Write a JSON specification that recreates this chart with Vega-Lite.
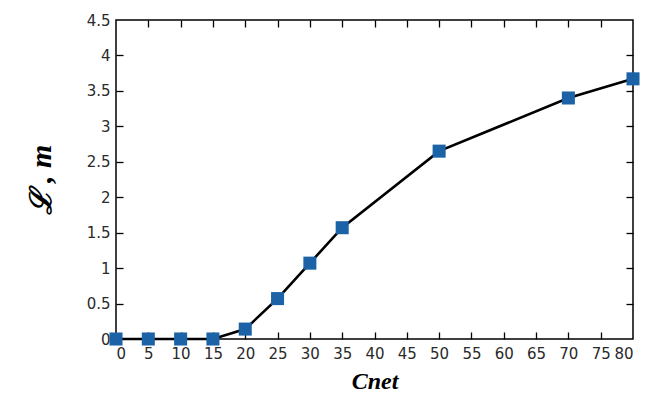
{
  "$schema": "https://vega.github.io/schema/vega-lite/v6.json",
  "autosize": "none",
  "width": 517,
  "height": 319,
  "padding": {"left": 116, "top": 20, "right": 16, "bottom": 73},
  "background": "white",
  "config": {
    "view": {"stroke": "black", "strokeWidth": 1.5},
    "axis": {
      "grid": false,
      "domain": false,
      "tickColor": "black",
      "tickWidth": 1.3,
      "tickSize": 7,
      "labelFont": "DejaVu Sans",
      "labelFontSize": 15,
      "labelColor": "#2a2a2a"
    }
  },
  "data": {
    "values": [
      {"cnet": 0, "L": 0},
      {"cnet": 5, "L": 0},
      {"cnet": 10, "L": 0},
      {"cnet": 15, "L": 0},
      {"cnet": 20, "L": 0.14},
      {"cnet": 25, "L": 0.57},
      {"cnet": 30, "L": 1.07},
      {"cnet": 35, "L": 1.57},
      {"cnet": 50, "L": 2.65},
      {"cnet": 70, "L": 3.4},
      {"cnet": 80, "L": 3.67}
    ]
  },
  "encoding": {
    "x": {"field": "cnet", "type": "quantitative", "scale": {"domain": [0, 80], "nice": false}},
    "y": {"field": "L", "type": "quantitative", "scale": {"domain": [0, 4.5], "nice": false}}
  },
  "layer": [
    {
      "mark": {"type": "line", "color": "black", "strokeWidth": 2.6, "interpolate": "linear"},
      "encoding": {
        "x": {"field": "cnet", "type": "quantitative",
          "axis": {"orient": "bottom", "ticks": false, "format": "~g", "values": [0,5,10,15,20,25,30,35,40,45,50,55,60,65,70,75,80], "labelPadding": 7, "title": "Cnet", "titleFont": "Liberation Serif", "titleFontSize": 24, "titleFontStyle": "italic", "titleFontWeight": "bold", "titleColor": "black", "titlePadding": 8}},
        "y": {"field": "L", "type": "quantitative",
          "axis": {"orient": "left", "ticks": false, "format": "~g", "values": [0,0.5,1,1.5,2,2.5,3,3.5,4,4.5], "labelPadding": 6, "title": "ℒ , m", "titleFont": "Liberation Serif", "titleFontSize": 30, "titleFontStyle": "italic", "titleFontWeight": "bold", "titleColor": "black", "titlePadding": 30}}
      }
    },
    {
      "mark": {"type": "square", "color": "#1b62a6", "opacity": 1, "size": 170},
      "encoding": {
        "x": {"field": "cnet", "type": "quantitative",
          "axis": {"orient": "top", "offset": -319, "values": [5,10,15,20,25,30,35,40,45,50,55,60,65,70,75], "labels": false, "title": null}},
        "y": {"field": "L", "type": "quantitative",
          "axis": {"orient": "right", "offset": -517, "values": [0.5,1,1.5,2,2.5,3,3.5,4], "labels": false, "title": null}}
      }
    },
    {
      "mark": {"type": "square", "opacity": 0},
      "encoding": {
        "x": {"field": "cnet", "type": "quantitative",
          "axis": {"orient": "bottom", "offset": -319, "values": [5,10,15,20,25,30,35,40,45,50,55,60,65,70,75], "labels": false, "title": null}},
        "y": {"field": "L", "type": "quantitative",
          "axis": {"orient": "left", "offset": -517, "values": [0.5,1,1.5,2,2.5,3,3.5,4], "labels": false, "title": null}}
      }
    }
  ],
  "resolve": {"axis": {"x": "independent", "y": "independent"}}
}
